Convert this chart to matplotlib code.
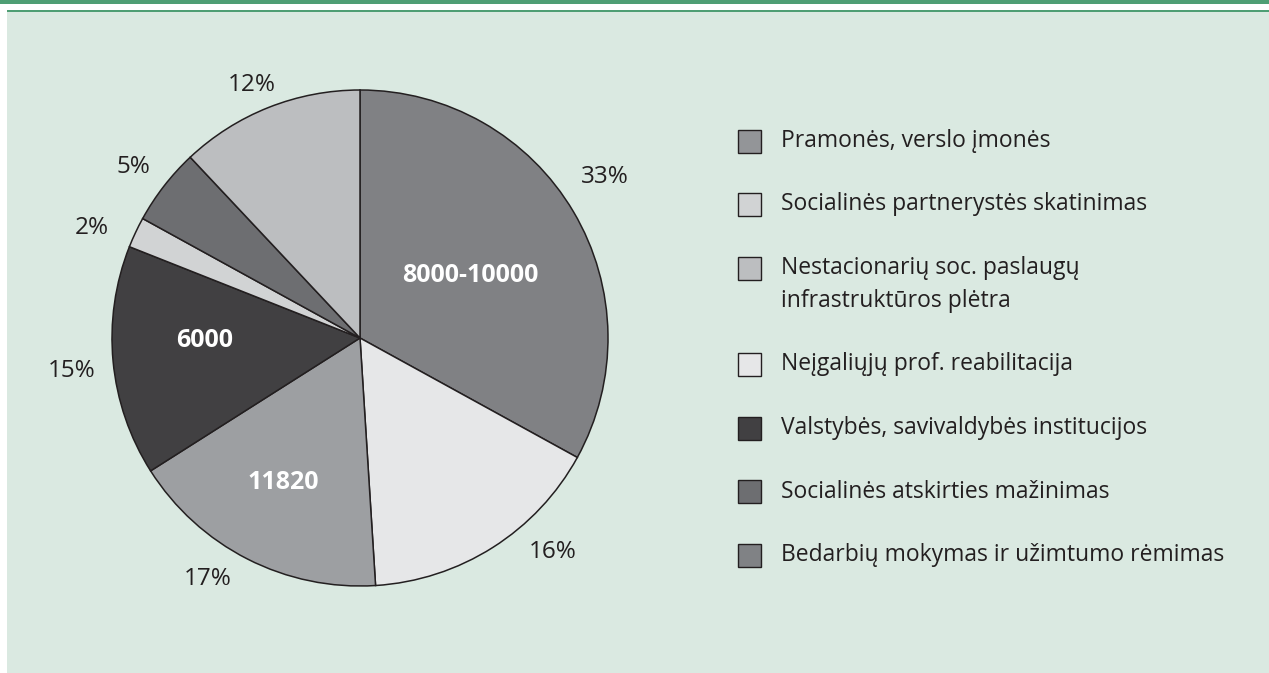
import numpy as np
import matplotlib
matplotlib.use('Agg')
import matplotlib.pyplot as plt
from matplotlib.patches import Rectangle

# ── Data ──────────────────────────────────────────────────────────────────────
slice_pct    = [33, 16, 17, 15, 2, 5, 12]
slice_colors = ['#808184', '#e6e7e8', '#9d9fa2', '#414042', '#d1d3d4', '#6d6e71', '#bcbec0']
inner_labels = ['8000-10000', '', '11820', '6000', '', '', '']

legend_labels = [
    'Pramonės, verslo įmonės',
    'Socialinės partnerystės skatinimas',
    'Nestacionarių soc. paslaugų\ninfrastruktūros plėtra',
    'Neįgaliųjų prof. reabilitacija',
    'Valstybės, savivaldybės institucijos',
    'Socialinės atskirties mažinimas',
    'Bedarbių mokymas ir užimtumo rėmimas',
]
legend_colors = ['#939598', '#d1d3d4', '#bcbec0', '#e6e7e8', '#414042', '#6d6e71', '#808285']

TEXT  = '#231f20'
BG    = '#dae9e1'
GREEN = '#4e9e74'
plt.rcParams['font.family'] = ['Open Sans', 'DejaVu Sans']

W, H = 1269, 673
fig = plt.figure(figsize=(W / 100, H / 100), dpi=100)
fig.patch.set_facecolor('white')

# background panel + green header lines (pixel coords, y down)
bg = fig.add_axes([0, 0, 1, 1])
bg.set_xlim(0, W); bg.set_ylim(H, 0)
bg.axis('off')
bg.add_patch(Rectangle((0, 0), W, 3.5, color=GREEN, lw=0))
bg.add_patch(Rectangle((7, 10), W - 7, 2, color=GREEN, lw=0))
bg.add_patch(Rectangle((7, 12), W - 7, H - 12, color=BG, lw=0))

# ── Pie ───────────────────────────────────────────────────────────────────────
cx, cy, r = 360, 338, 248
ax = fig.add_axes([0, 0, 1, 1])
ax.set_aspect('equal')
ax.axis('off')

wedges, texts, autotexts = ax.pie(
    slice_pct, colors=slice_colors, startangle=90, counterclock=False,
    center=(cx, H - cy), radius=r,
    autopct=lambda p: f'{p:.0f}%', pctdistance=1.16,
    wedgeprops=dict(edgecolor='#231f20', linewidth=1.1),
    textprops=dict(fontsize=17.5, color=TEXT))
ax.set_xlim(0, W); ax.set_ylim(0, H)

# the outer % labels are not quite on the slice bisectors in the original
nudge = [(2.7, 1.18), (9.6, 1.16), (-5.3, 1.15), (1.1, 1.17),
         (3.0, 1.17), (0.7, 1.145), (1.6, 1.11)]
for w, t, (da, d) in zip(wedges, autotexts, nudge):
    ang = np.deg2rad((w.theta1 + w.theta2) / 2 + da)
    t.set_position((cx + d * r * np.cos(ang), H - cy + d * r * np.sin(ang)))

# values written inside three slices
inner_pos = [(-1.2, 0.51), None, (-1.0, 0.66), (-4.3, 0.625), None, None, None]
for w, lab, p in zip(wedges, inner_labels, inner_pos):
    if not lab:
        continue
    da, d = p
    ang = np.deg2rad((w.theta1 + w.theta2) / 2 + da)
    ax.text(cx + d * r * np.cos(ang), H - cy + d * r * np.sin(ang), lab,
            ha='center', va='center', fontsize=18, fontweight='bold', color='white')

# ── Legend (drawn by hand so the box sits on the first text line) ─────────────
y = 141
for lab, col in zip(legend_labels, legend_colors):
    bg.add_patch(Rectangle((738, y - 11.5), 23, 23, facecolor=col,
                           edgecolor='#231f20', lw=1))
    for line in lab.split('\n'):
        bg.text(781, y, line, ha='left', va='center', fontsize=16.5, color=TEXT)
        y += 33
    y += 30.5

fig.savefig('out.png', dpi=100, facecolor=fig.get_facecolor())
